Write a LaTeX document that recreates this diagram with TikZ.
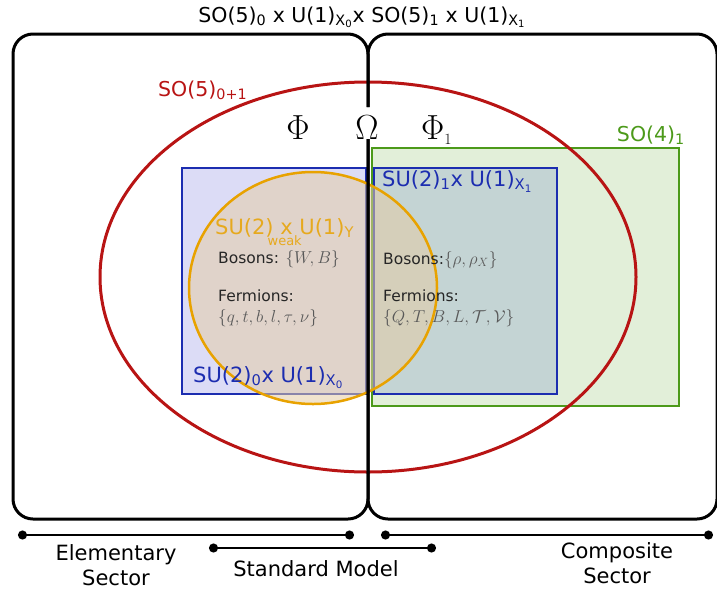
\documentclass[tikz,border=0pt]{standalone}
\usepackage{graphicx}
\usepackage{fontspec}
\setmainfont{DejaVu Sans}
\usetikzlibrary{arrows.meta}
\definecolor{sored}{HTML}{B81414}
\definecolor{sogreen}{HTML}{4C9A1A}
\definecolor{sogreenfill}{HTML}{E2EFD9}
\definecolor{sublue}{HTML}{1C2DB0}
\definecolor{subluefill}{HTML}{DCDCF6}
\definecolor{subluegreen}{HTML}{C4D4D4}
\definecolor{smorange}{HTML}{E8A200}
\definecolor{smfill}{HTML}{E4CCA6}
\newcommand{\xsub}[1]{\textsubscript{X\textsubscript{#1}}}
\newcommand{\bigmath}[1]{\scalebox{1.4}{\fontsize{24.88}{30}\selectfont$#1$}}
\newcommand{\setmath}[1]{\textcolor{black!65}{\fontsize{17.28}{20}\selectfont$#1$}}

\begin{document}
\begin{tikzpicture}[x=1pt,y=-1pt,
  sector/.style={line width=3pt, rounded corners=20pt},
  grp/.style={line width=2.2pt},
  lbl/.style={inner sep=0pt, anchor=base west, font=\fontsize{21}{25}\selectfont},
  txt/.style={inner sep=0pt, anchor=base west, font=\fontsize{15.5}{18}\selectfont, text=black!85},
  grk/.style={inner sep=0pt, anchor=base},
  span/.style={{Circle[length=9pt]}-{Circle[length=9pt]}, line width=2pt}]
\useasboundingbox (0,0) rectangle (717,595);

% groups
\draw[grp, sogreen, fill=sogreenfill] (372,148) rectangle (679,406);
\draw[grp, sublue, fill=subluefill] (182,168) rectangle (366,394);
\draw[grp, sublue, fill=subluegreen] (374,168) rectangle (557,394);
\fill[smfill, opacity=0.55] (313,288) ellipse [x radius=124, y radius=116];
\draw[smorange, line width=2.5pt] (313,288) ellipse [x radius=124, y radius=116];
\draw[sored, line width=3pt] (368,277) ellipse [x radius=268, y radius=195];

% sectors
\draw[sector] (368,107) -- (368,34) -- (13,34) -- (13,519) -- (368,519) -- (368,139);
\draw[sector] (368,107) -- (368,34) -- (717,34) -- (717,519) -- (368,519) -- (368,139);

% labels
\node[lbl, anchor=base, font=\fontsize{20.5}{25}\selectfont] (title) at (362,22) {SO(5)\textsubscript{0} x U(1)\xsub{0}x SO(5)\textsubscript{1} x U(1)\xsub{1}};
\node[lbl, text=sored, font=\fontsize{20.5}{25}\selectfont] (so5) at (158,96) {SO(5)\textsubscript{0+1}};
\node[lbl, text=sogreen, anchor=base east, font=\fontsize{20.5}{25}\selectfont] (so4) at (685,141) {SO(4)\textsubscript{1}};
\node[lbl, text=sublue] (su2r) at (382,186) {SU(2)\textsubscript{1}x U(1)\xsub{1}};
\node[lbl, text=sublue] (su2l) at (193,382) {SU(2)\textsubscript{0}x U(1)\xsub{0}};
\node[lbl, text=smorange, opacity=0.85] (sm) at (215,234) {SU(2)\rlap{\hspace{-6pt}\raisebox{-11pt}{\fontsize{13}{15}\selectfont weak}} x U(1)\textsubscript{Y}};

\node[grk] (phi) at (298,139) {\bigmath{\Phi}};
\node[grk] (omega) at (367,139) {\bigmath{\Omega}};
\node[grk, anchor=base west] (phione) at (421,139) {\bigmath{\Phi_{\scalebox{0.45}{$1$}}}};

\node[txt] (bosl) at (218,263) {Bosons: \setmath{\{W,B\}}};
\node[txt] (ferl) at (218,301) {Fermions:};
\node[txt] (setl) at (218,322) {\setmath{\{q,t,b,l,\tau,\nu\}}};
\node[txt] (bosr) at (383,264) {Bosons:\setmath{\{\rho,\rho_X\}}};
\node[txt] (ferr) at (383,301) {Fermions:};
\node[txt] (setr) at (383,322) {\setmath{\{Q,T,B,L,\mathcal{T},\mathcal{V}\}}};

% spans
\coordinate (elemA) at (18,535);
\coordinate (elemB) at (354,535);
\coordinate (compA) at (381,535);
\coordinate (compB) at (713,535);
\coordinate (smA) at (209,548);
\coordinate (smB) at (436,548);
\draw[span] (elemA) -- (elemB);
\draw[span] (compA) -- (compB);
\draw[span] (smA) -- (smB);
\node[lbl, anchor=center, align=center] (elem) at (116,565) {Elementary\\Sector};
\node[lbl, anchor=center] (smlbl) at (316,569) {Standard Model};
\node[lbl, anchor=center, align=center] (comp) at (617,563) {Composite\\Sector};
\end{tikzpicture}
\end{document}
